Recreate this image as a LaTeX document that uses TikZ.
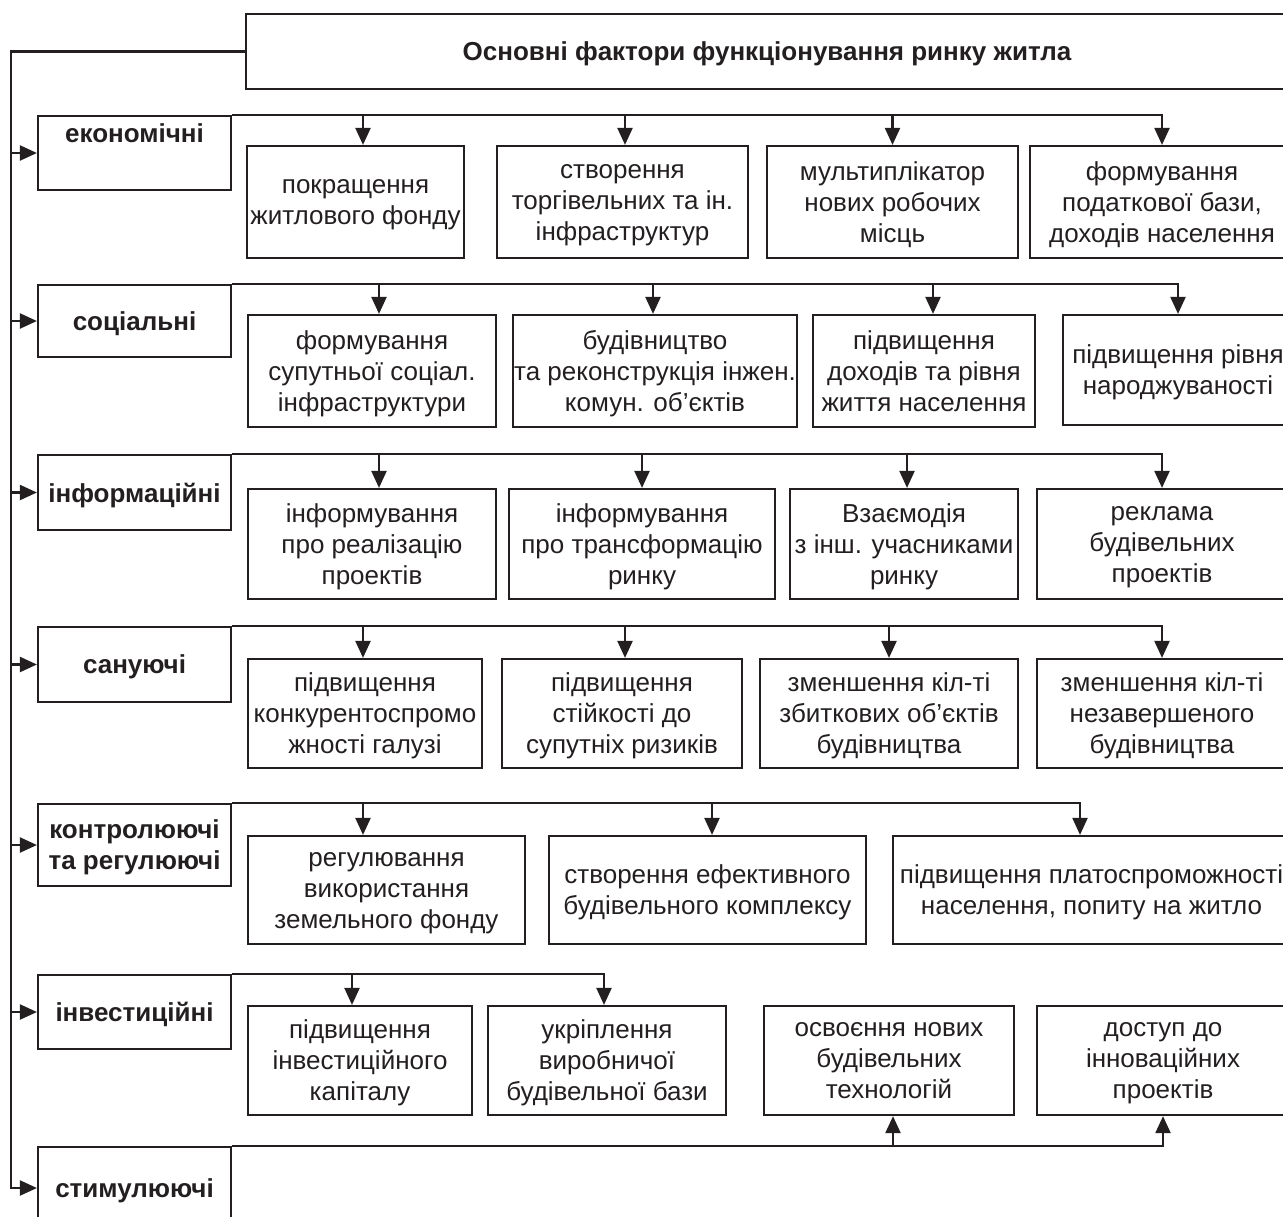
\documentclass[tikz,border=0pt]{standalone}
\usepackage{fontspec}
\setmainfont{Liberation Sans}
\usetikzlibrary{arrows.meta, positioning}
\definecolor{ink}{HTML}{231F20}

\begin{document}
\begin{tikzpicture}[
    x=0.5pt, y=-0.5pt,
    font=\fontsize{13}{15.5}\selectfont,
    wd/.style={minimum width=#1*0.5pt},
    ht/.style={minimum height=#1*0.5pt},
    item/.style={
        draw=ink,
        line width=1.1pt,
        inner sep=0pt,
        align=center,
        text=ink,
        text depth=-3.5pt
    },
    head/.style={
        item,
        font=\fontsize{13}{15.5}\selectfont\bfseries
    },
    group/.style={
        head,
        wd=193,
        ht=#1
    },
    line/.style={draw=ink, line width=1.1pt},
    arr/.style={line, -{Triangle[length=8.5pt, width=7.5pt]}}
]
\clip (0,0) rectangle (1283,1216);

% main title
\node[head, wd=1042, ht=75, text depth=-1pt] (title) at (767,51.5)
{Основні фактори функціонування ринку житла};
\coordinate (trunk) at (11,51.5);

% factor groups
\node[group=74, text depth=20pt] (ek) at (134.5,153) {економічні};
\node[group=72] (soc) at (134.5,321) {соціальні};
\node[group=75] (inf) at (134.5,492.5) {інформаційні};
\node[group=75] (san) at (134.5,664.5) {сануючі};
\node[group=82] (kr) at (134.5,845) {контролюючі\\та регулюючі};
\node[group=74] (inv) at (134.5,1012) {інвестиційні};
\node[group=82, text depth=0pt] (stim) at (134.5,1188) {стимулюючі};

% economic
\node[item, wd=217, ht=112] (c11) at (355.5,202) {покращення\\житлового фонду};
\node[item, wd=251, ht=112] (c12) at (622.5,202) {створення\\торгівельних та ін.\\інфраструктур};
\node[item, wd=251, ht=112] (c13) at (892.5,202) {мультиплікатор\\нових робочих\\місць};
\node[item, wd=264, ht=112] (c14) at (1162,202) {формування\\податкової бази,\\доходів населення};

% social
\node[item, wd=248, ht=112] (c21) at (372,371) {формування\\супутньої соціал.\\інфраструктури};
\node[item, wd=284, ht=112] (c22) at (655,371) {будівництво\\та реконструкція інжен.\\комун. об’єктів};
\node[item, wd=222, ht=112] (c23) at (924,371) {підвищення\\доходів та рівня\\життя населення};
\node[item, wd=230, ht=110] (c24) at (1178,370) {підвищення рівня\\народжуваності};

% informational
\node[item, wd=248, ht=110] (c31) at (372,544) {інформування\\про реалізацію\\проектів};
\node[item, wd=266, ht=110] (c32) at (642,544) {інформування\\про трансформацію\\ринку};
\node[item, wd=228, ht=110] (c33) at (904,544) {Взаємодія\\з інш. учасниками\\ринку};
\node[item, wd=250, ht=110] (c34) at (1162,544) {реклама\\будівельних\\проектів};

% remedial
\node[item, wd=234, ht=109] (c41) at (365,713.5) {підвищення\\конкурентоспромо\\жності галузі};
\node[item, wd=240, ht=109] (c42) at (622,713.5) {підвищення\\стійкості до\\супутніх ризиків};
\node[item, wd=258, ht=109] (c43) at (889,713.5) {зменшення кіл-ті\\збиткових об’єктів\\будівництва};
\node[item, wd=250, ht=109] (c44) at (1162,713.5) {зменшення кіл-ті\\незавершеного\\будівництва};

% control
\node[item, wd=277, ht=108] (c51) at (386.5,890) {регулювання\\використання\\земельного фонду};
\node[item, wd=317, ht=108] (c52) at (707.5,890) {створення ефективного\\будівельного комплексу};
\node[item, wd=397, ht=108] (c53) at (1091.5,890) {підвищення платоспроможності\\населення, попиту на житло};

% investment
\node[item, wd=224, ht=109] (c61) at (360,1060.5) {підвищення\\інвестиційного\\капіталу};
\node[item, wd=238, ht=109] (c62) at (607,1060.5) {укріплення\\виробничої\\будівельної бази};
\node[item, wd=250, ht=109] (c63) at (889,1060.5) {освоєння нових\\будівельних\\технологій};
\node[item, wd=252, ht=109] (c64) at (1163,1060.5) {доступ до\\інноваційних\\проектів};

% trunk
\draw[arr] (title.west) -- (trunk) |- (stim.west);
\draw[arr] (trunk |- ek.west) -- (ek.west);
\draw[arr] (trunk |- soc.west) -- (soc.west);
\draw[arr] (trunk |- inf.west) -- (inf.west);
\draw[arr] (trunk |- san.west) -- (san.west);
\draw[arr] (trunk |- kr.west) -- (kr.west);
\draw[arr] (trunk |- inv.west) -- (inv.west);

% branches
\draw[arr] (ek.north east) -| ([xshift=3.75pt]c11.north);
\draw[arr] (ek.north east) -| ([xshift=1.25pt]c12.north);
\draw[arr] (ek.north east) -| (c13.north);
\draw[arr] (ek.north east) -| (c14.north);

\draw[arr] (soc.north east) -| ([xshift=3.5pt]c21.north);
\draw[arr] (soc.north east) -| ([xshift=-1pt]c22.north);
\draw[arr] (soc.north east) -| ([xshift=4.5pt]c23.north);
\draw[arr] (soc.north east) -| (c24.north);

\draw[arr] (inf.north east) -| ([xshift=3.5pt]c31.north);
\draw[arr] (inf.north east) -| (c32.north);
\draw[arr] (inf.north east) -| ([xshift=1.5pt]c33.north);
\draw[arr] (inf.north east) -| (c34.north);

\draw[arr] (san.north east) -| ([xshift=-1pt]c41.north);
\draw[arr] (san.north east) -| ([xshift=1.5pt]c42.north);
\draw[arr] (san.north east) -| (c43.north);
\draw[arr] (san.north east) -| (c44.north);

\draw[arr] (kr.north east) -| ([xshift=-11.75pt]c51.north);
\draw[arr] (kr.north east) -| ([xshift=2.25pt]c52.north);
\draw[arr] (kr.north east) -| ([xshift=-5.75pt]c53.north);

\draw[arr] (inv.north east) -| ([xshift=-4pt]c61.north);
\draw[arr] (inv.north east) -| ([xshift=-1.5pt]c62.north);

\draw[arr] (stim.north east) -| ([xshift=2pt]c63.south);
\draw[arr] (stim.north east) -| (c64.south);

\end{tikzpicture}
\end{document}
